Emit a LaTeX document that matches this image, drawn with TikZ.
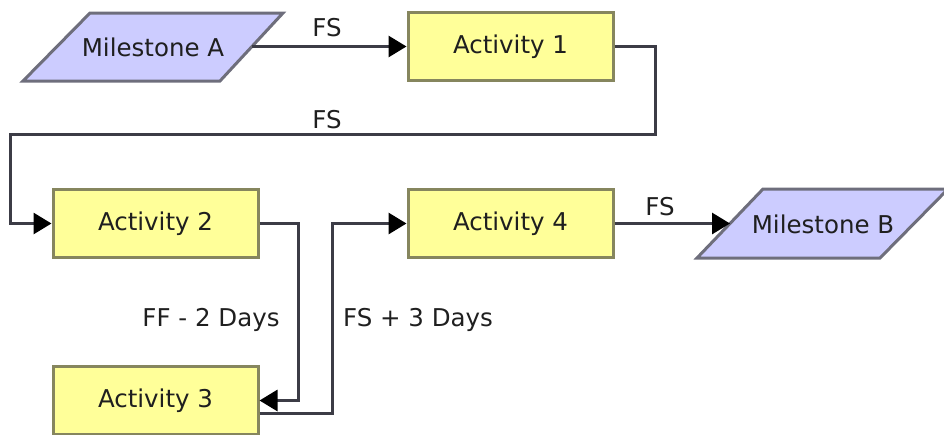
\documentclass[tikz,border=0pt]{standalone}
\usepackage{fontspec}
\setmainfont{DejaVu Sans}
\usetikzlibrary{arrows.meta}
\definecolor{actfill}{HTML}{FFFF99}
\definecolor{actdraw}{HTML}{86865E}
\definecolor{msfill}{HTML}{CCCCFF}
\definecolor{msdraw}{HTML}{6E6E7C}
\definecolor{linec}{HTML}{3C3C46}
\tikzset{
  lbl/.style={font=\fontsize{24.5}{28}\selectfont, text=black!88, inner sep=0pt},
  actbox/.style={lbl, rectangle, fill=actfill, draw=actdraw, line width=3pt,
    minimum width=205pt, minimum height=68pt},
  msshape/.style={fill=msfill, draw=msdraw, line width=3pt, line join=miter},
  conn/.style={draw=linec, line width=3pt, -{Triangle[length=18pt,width=21pt,fill=black,color=black]}}
}
\begin{document}
\begin{tikzpicture}[x=1pt,y=-1pt]
\useasboundingbox (0,0) rectangle (944,434);
% milestone shapes
\draw[msshape] (23,81) -- (90,13) -- (283,13) -- (220,81) -- cycle;
\draw[msshape] (697,258) -- (763,189) -- (948,189) -- (880,258) -- cycle;
\coordinate (maR) at (252,46.5);
\coordinate (mbL) at (730,223.5);
% nodes
\node[lbl] (ma) at (153,47) {Milestone A};
\node[lbl] (mb) at (823,224) {Milestone B};
\node[actbox] (a1) at (510.5,46.5) {Activity 1};
\node[actbox] (a2) at (155.5,223.5) {Activity 2};
\node[actbox] (a4) at (510.5,223.5) {Activity 4};
\node[actbox] (a3) at (155.5,400.5) {Activity 3};
% bend points
\coordinate (b1) at (655,134);
\coordinate (b2) at (10,134);
\coordinate (b3) at (298,400.5);
\coordinate (b4) at (332,300);
% connectors
\draw[conn] (maR) -- (a1.west);
\draw[conn] (a1.east) -| (b1) -- (b2) |- (a2.west);
\draw[conn] (a2.east) -| (b3) -- (a3.east);
\draw[conn] ([yshift=-13pt]a3.east) -| (b4) |- (a4.west);
\draw[conn] (a4.east) -- (mbL);
% labels
\node[lbl] (l1) at (327,28) {FS};
\node[lbl] (l2) at (327,120) {FS};
\node[lbl] (l3) at (211,320) {FF - 2 Days};
\node[lbl] (l4) at (418,320) {FS + 3 Days};
\node[lbl] (l5) at (660,207) {FS};
\end{tikzpicture}
\end{document}
